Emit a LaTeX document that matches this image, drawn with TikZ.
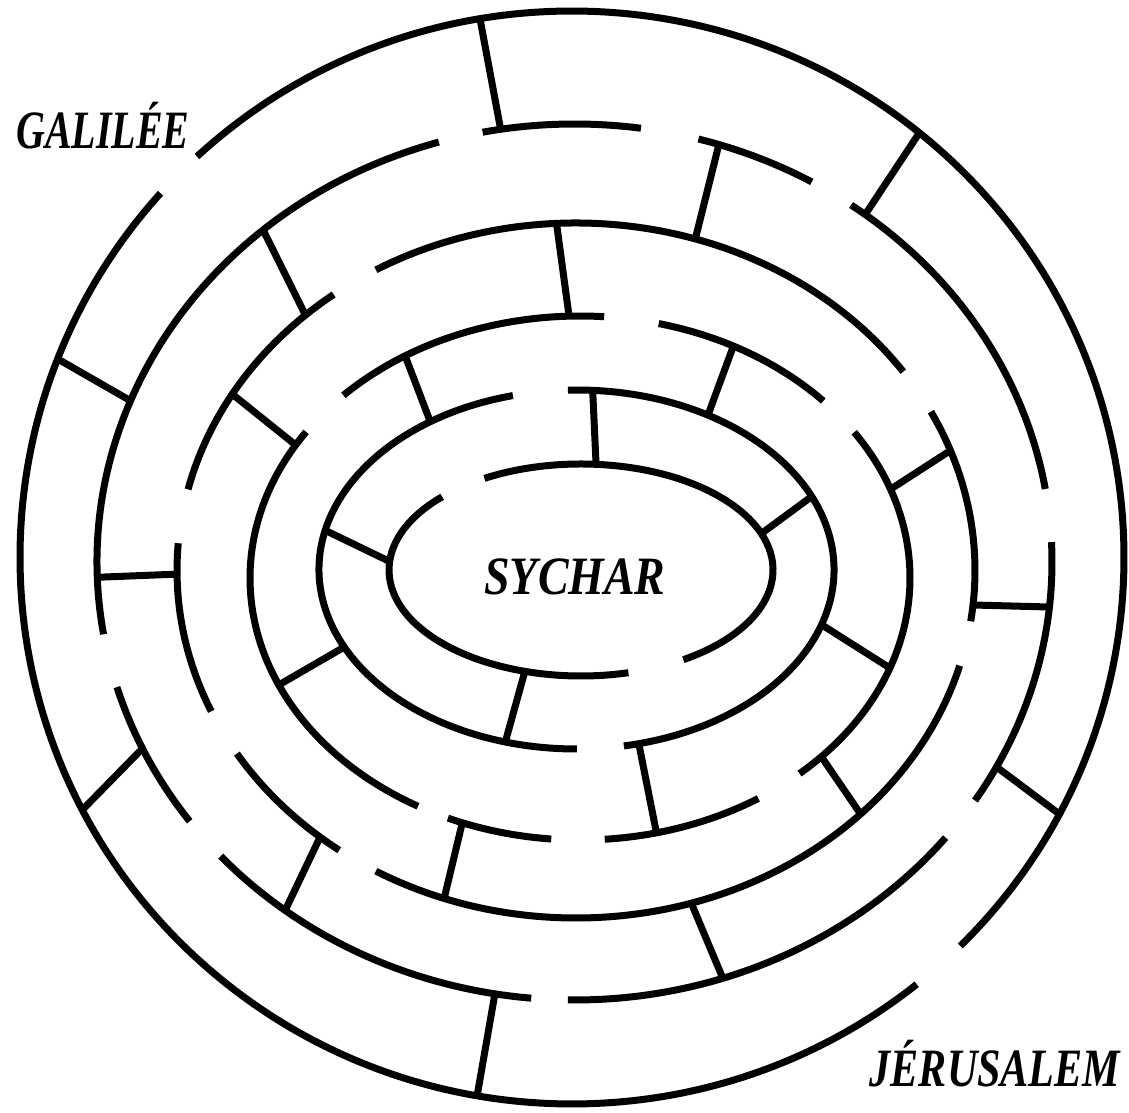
\documentclass[tikz,border=0pt]{standalone}
\usepackage{fontspec}
\setmainfont{Liberation Serif}
\usepackage{graphicx}
\usepackage{tikz}

\begin{document}
\begin{tikzpicture}[
    x=1pt, y=1pt,
    wall/.style = {line width=7pt},
    r1/.style = {x radius=552pt, y radius=546.5pt},
    r2/.style = {x radius=477.5pt, y radius=438pt},
    r3/.style = {x radius=399pt, y radius=347.5pt},
    r4/.style = {x radius=330pt, y radius=262pt},
    r5/.style = {x radius=257.5pt, y radius=179.5pt},
    r6/.style = {x radius=192pt, y radius=106pt},
    place/.style = {font=\bfseries\itshape\fontsize{54}{60}\selectfont, inner sep=0pt}
]
    \useasboundingbox (0,0) rectangle (1129,1112);

    \coordinate (c1) at (572,554.5);
    \coordinate (c2) at (574.5,550);
    \coordinate (c3) at (576,541.5);
    \coordinate (c4) at (580,534);
    \coordinate (c5) at (576.5,542.5);
    \coordinate (c6) at (581,542);

    % Outer ring
    \draw[wall] (c1) ++(138.2:552 and 546.5) arc[r1,start angle=138.2,end angle=308.65];
    \draw[wall] (c1) ++(-45.3:552 and 546.5) arc[r1,start angle=-45.3,end angle=132.8];

    % Ring 2
    \draw[wall] (c2) ++(106.5:477.5 and 438) arc[r2,start angle=106.5,end angle=189.5];
    \draw[wall] (c2) ++(196.6:477.5 and 438) arc[r2,start angle=196.6,end angle=216.3];
    \draw[wall] (c2) ++(222.2:477.5 and 438) arc[r2,start angle=222.2,end angle=264.8];
    \draw[wall] (c2) ++(269.2:477.5 and 438) arc[r2,start angle=269.2,end angle=321];
    \draw[wall] (c2) ++(327:477.5 and 438) arc[r2,start angle=327,end angle=362.6];
    \draw[wall] (c2) ++(9.6:477.5 and 438) arc[r2,start angle=9.6,end angle=54.6];
    \draw[wall] (c2) ++(60.2:477.5 and 438) arc[r2,start angle=60.2,end angle=74.95];
    \draw[wall] (c2) ++(82:477.5 and 438) arc[r2,start angle=82,end angle=101.1];

    % Ring 3
    \draw[wall] (c3) ++(34.9:399 and 347.5) arc[r3,start angle=34.9,end angle=120.1];
    \draw[wall] (c3) ++(-8.4:399 and 347.5) arc[r3,start angle=-8.4,end angle=27.2];
    \draw[wall] (c3) ++(239.9:399 and 347.5) arc[r3,start angle=239.9,end angle=344.1];
    \draw[wall] (c3) ++(211.8:399 and 347.5) arc[r3,start angle=211.8,end angle=233.6];
    \draw[wall] (c3) ++(175.5:399 and 347.5) arc[r3,start angle=175.5,end angle=203.9];
    \draw[wall] (c3) ++(127.4:399 and 347.5) arc[r3,start angle=127.4,end angle=166.5];

    % Ring 4
    \draw[wall] (c4) ++(85.8:330 and 262) arc[r4,start angle=85.8,end angle=135.8];
    \draw[wall] (c4) ++(42.5:330 and 262) arc[r4,start angle=42.5,end angle=76.2];
    \draw[wall] (c4) ++(-48.3:330 and 262) arc[r4,start angle=-48.3,end angle=33.8];
    \draw[wall] (c4) ++(274.3:330 and 262) arc[r4,start angle=274.3,end angle=302.7];
    \draw[wall] (c4) ++(246.4:330 and 262) arc[r4,start angle=246.4,end angle=265];
    \draw[wall] (c4) ++(146.1:330 and 262) arc[r4,start angle=146.1,end angle=240.6];

    % Ring 5
    \draw[wall] (c5) ++(-79.4:257.5 and 179.5) arc[r5,start angle=-79.4,end angle=91.9];
    \draw[wall] (c5) ++(104.3:257.5 and 179.5) arc[r5,start angle=104.3,end angle=270.1];

    % Inner ring
    \draw[wall] (c6) ++(-57.8:192 and 106) arc[r6,start angle=-57.8,end angle=120.2];
    \draw[wall] (c6) ++(136.3:192 and 106) arc[r6,start angle=136.3,end angle=284.3];

    % Walls 1-2
    \draw[wall] ([shift={(99.6:552 and 546.5)}]c1) -- ([shift={(98.9:477.5 and 438)}]c2);
    \draw[wall] ([shift={(51:552 and 546.5)}]c1) -- ([shift={(52.5:477.5 and 438)}]c2);
    \draw[wall] ([shift={(-28:552 and 546.5)}]c1) -- ([shift={(-27.9:477.5 and 438)}]c2);
    \draw[wall] ([shift={(260.1:552 and 546.5)}]c1) -- ([shift={(260.4:477.5 and 438)}]c2);
    \draw[wall] ([shift={(207.5:552 and 546.5)}]c1) -- ([shift={(205.2:477.5 and 438)}]c2);
    \draw[wall] ([shift={(158.7:552 and 546.5)}]c1) -- ([shift={(158.4:477.5 and 438)}]c2);

    % Walls 2-3
    \draw[wall] ([shift={(130.7:477.5 and 438)}]c2) -- ([shift={(132.7:399 and 347.5)}]c3);
    \draw[wall] ([shift={(182:477.5 and 438)}]c2) -- ([shift={(180.6:399 and 347.5)}]c3);
    \draw[wall] ([shift={(232.7:477.5 and 438)}]c2) -- ([shift={(230.1:399 and 347.5)}]c3);
    \draw[wall] ([shift={(288.1:477.5 and 438)}]c2) -- ([shift={(286.8:399 and 347.5)}]c3);
    \draw[wall] ([shift={(-5.9:477.5 and 438)}]c2) -- ([shift={(-5.7:399 and 347.5)}]c3);
    \draw[wall] ([shift={(72.4:477.5 and 438)}]c2) -- ([shift={(72.6:399 and 347.5)}]c3);

    % Walls 3-4
    \draw[wall] ([shift={(92.8:399 and 347.5)}]c3) -- ([shift={(91.9:330 and 262)}]c4);
    \draw[wall] ([shift={(149.5:399 and 347.5)}]c3) -- ([shift={(149.5:330 and 262)}]c4);
    \draw[wall] ([shift={(20.2:399 and 347.5)}]c3) -- ([shift={(19.8:330 and 262)}]c4);
    \draw[wall] ([shift={(-44.5:399 and 347.5)}]c3) -- ([shift={(-43:330 and 262)}]c4);
    \draw[wall] ([shift={(250.7:399 and 347.5)}]c3) -- ([shift={(249.1:330 and 262)}]c4);

    % Walls 4-5
    \draw[wall] ([shift={(122:330 and 262)}]c4) -- ([shift={(124.6:257.5 and 179.5)}]c5);
    \draw[wall] ([shift={(204.1:330 and 262)}]c4) -- ([shift={(205.6:257.5 and 179.5)}]c5);
    \draw[wall] ([shift={(62.3:330 and 262)}]c4) -- ([shift={(59.3:257.5 and 179.5)}]c5);
    \draw[wall] ([shift={(-20.1:330 and 262)}]c4) -- ([shift={(-17.9:257.5 and 179.5)}]c5);
    \draw[wall] ([shift={(-76.6:330 and 262)}]c4) -- ([shift={(-76:257.5 and 179.5)}]c5);

    % Walls 5-6
    \draw[wall] ([shift={(167.4:257.5 and 179.5)}]c5) -- ([shift={(175.4:192 and 106)}]c6);
    \draw[wall] ([shift={(253.95:257.5 and 179.5)}]c5) -- ([shift={(253:192 and 106)}]c6);
    \draw[wall] ([shift={(86.4:257.5 and 179.5)}]c5) -- ([shift={(85.5:192 and 106)}]c6);
    \draw[wall] ([shift={(24:257.5 and 179.5)}]c5) -- ([shift={(20.1:192 and 106)}]c6);

    % Places
    \node[place,anchor=base west] (galilee) at (16,963) {\scalebox{0.74}[1]{GALILÉE}};
    \node[place,anchor=base] (sychar) at (575,517) {\scalebox{0.85}[1]{SYCHAR}};
    \node[place,anchor=base] (jerusalem) at (995,26) {\scalebox{0.78}[1]{JÉRUSALEM}};
\end{tikzpicture}
\end{document}
